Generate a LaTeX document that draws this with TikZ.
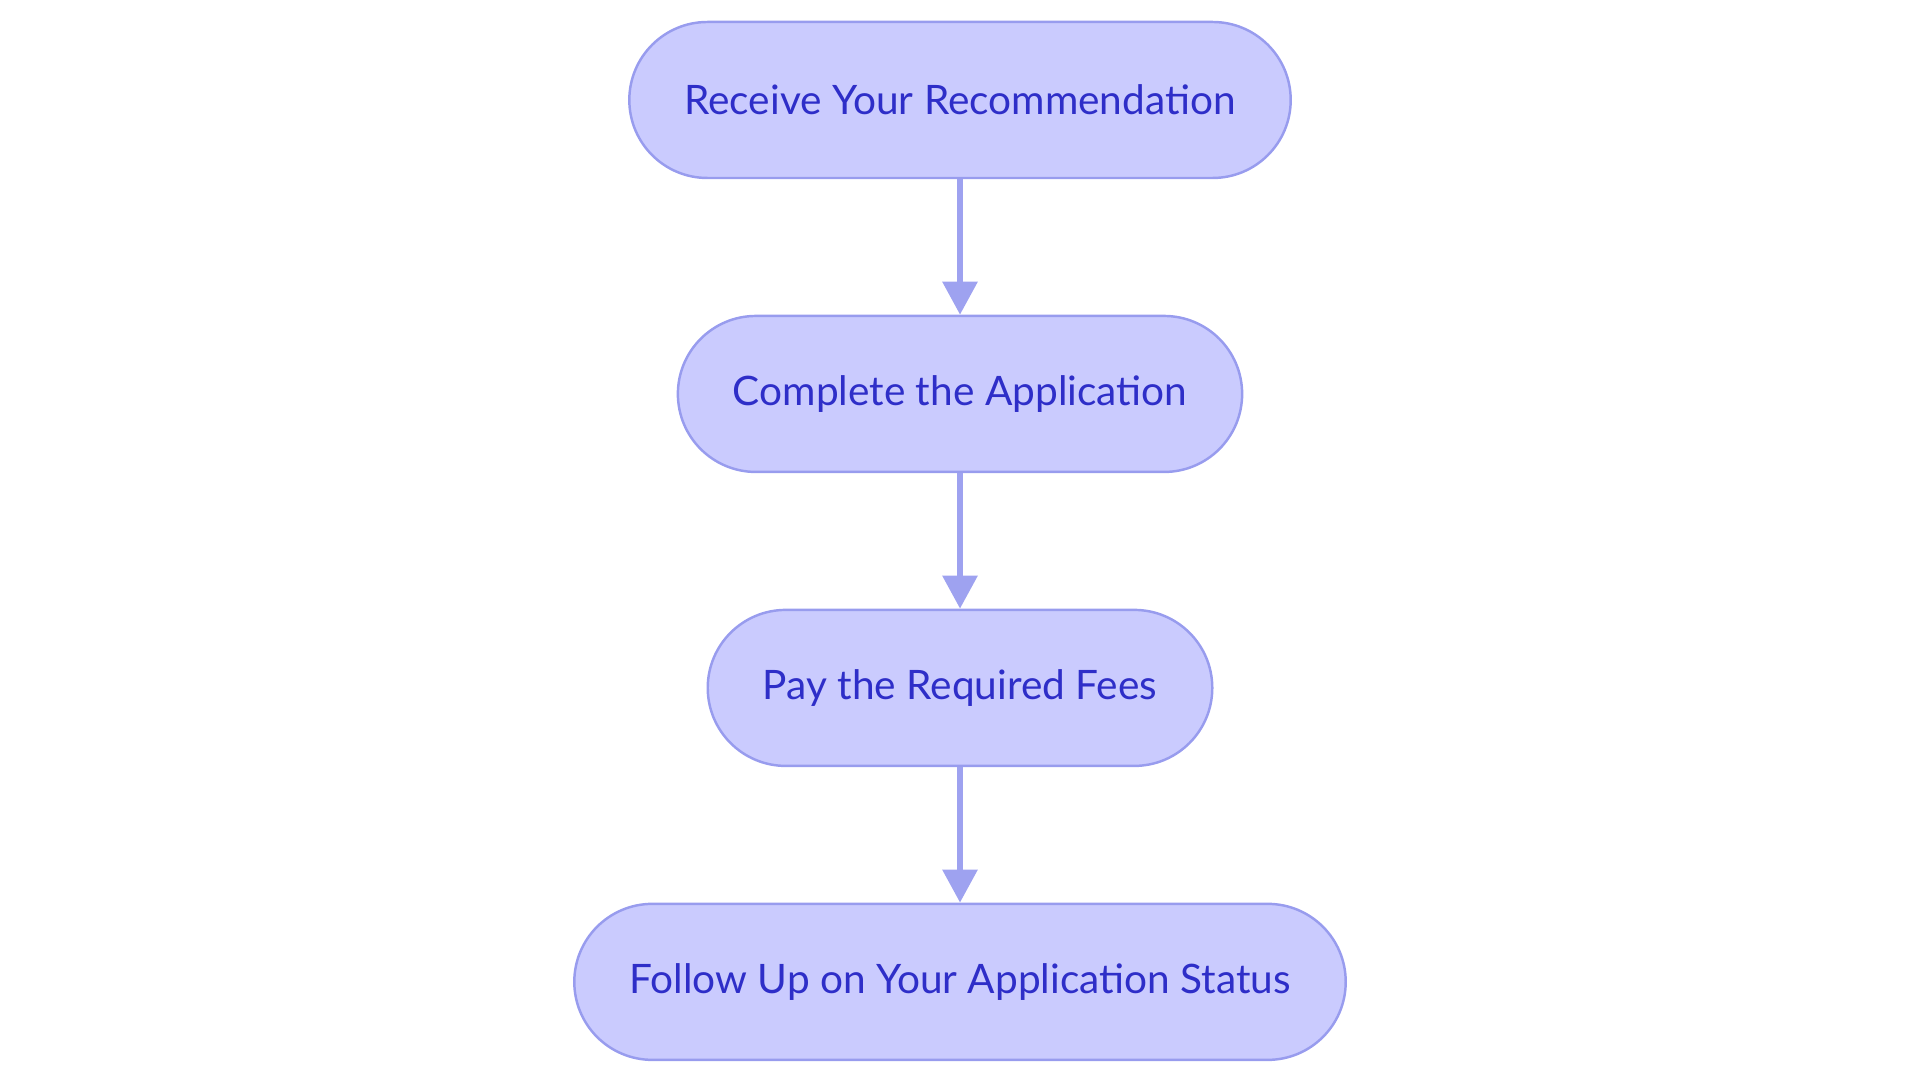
\documentclass[tikz,border=0pt]{standalone}
\usepackage{fontspec}
\setmainfont{Lato}
\usetikzlibrary{positioning,arrows.meta}
\definecolor{boxfill}{RGB}{202,203,254}
\definecolor{boxline}{RGB}{152,156,238}
\definecolor{boxtext}{RGB}{46,46,200}
\definecolor{arrowline}{RGB}{158,162,240}
\begin{document}
\begin{tikzpicture}[node distance=1.355cm, % ノード間の距離
  stadium/.style={draw=boxline, fill=boxfill, line width=0.7pt, rounded corners=0.78cm,
    minimum height=1.56cm, inner xsep=0.55cm, text=boxtext, font=\fontsize{11.55}{13}\selectfont}, % 角丸の箱
  flow/.style={draw=arrowline, line width=1.7pt, -{Triangle[width=0.34cm,length=0.33cm]}}] % 矢印
  \useasboundingbox (0,0) rectangle (19.2,10.83); % 余白を含む全体の大きさ

  \node[stadium] (recv) at (9.6,9.83) {Receive Your Recommendation}; % 1段目
  \node[stadium, below=of recv] (apply) {Complete the Application}; % 2段目
  \node[stadium, below=of apply] (fees) {Pay the Required Fees}; % 3段目
  \node[stadium, below=of fees] (follow) {Follow Up on Your Application Status}; % 4段目

  \draw[flow] (recv) -- (apply); % 矢印
  \draw[flow] (apply) -- (fees); % 矢印
  \draw[flow] (fees) -- (follow); % 矢印
\end{tikzpicture}
\end{document}
